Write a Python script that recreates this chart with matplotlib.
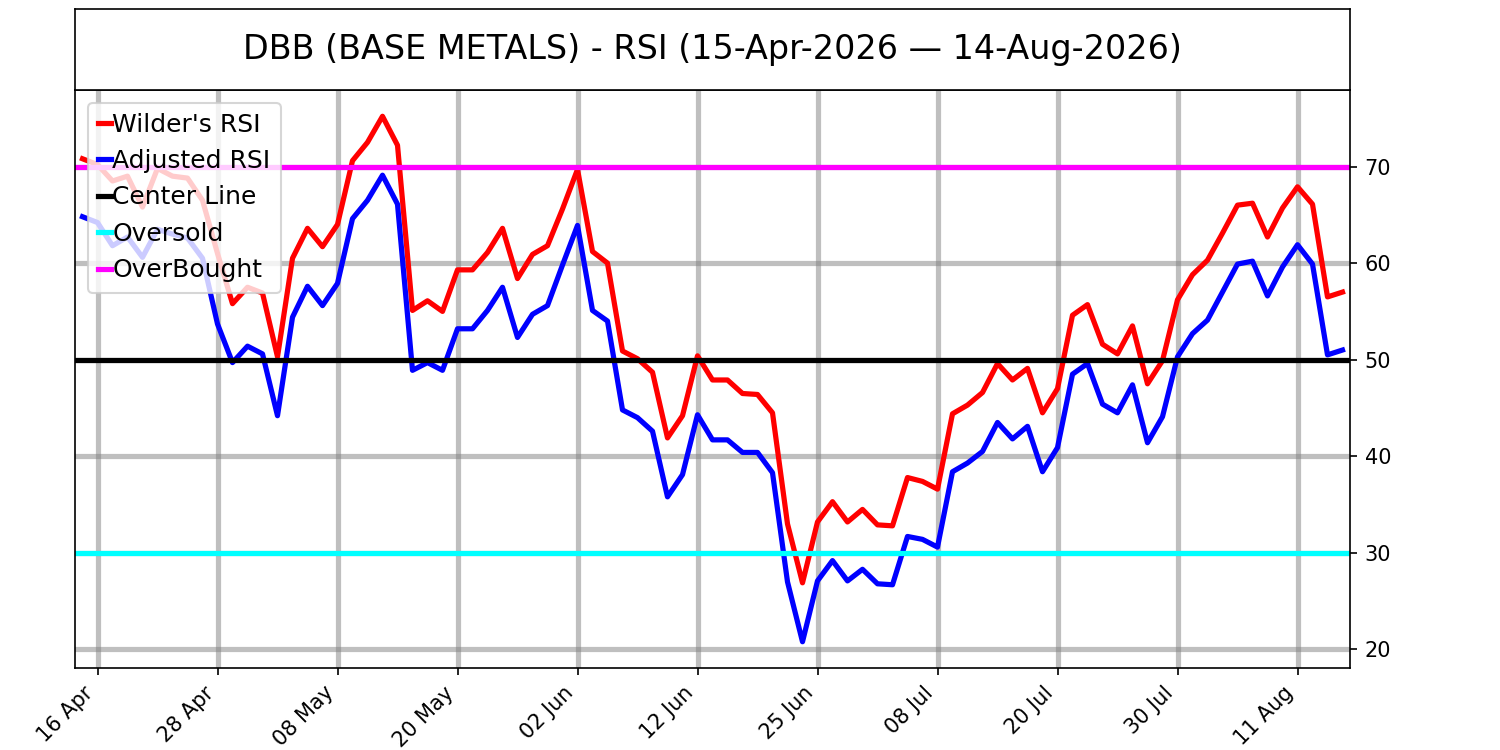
import numpy as np
import pandas as pd
import matplotlib
matplotlib.use("Agg")
import matplotlib.pyplot as plt

# trading days 15 Apr - 14 Aug 2026 (US market holidays removed)
holidays = ["2026-05-25", "2026-06-19", "2026-07-03"]
dates = pd.bdate_range("2026-04-15", "2026-08-14", freq="C", holidays=holidays)

wilder_rsi = [
    70.8, 70.2, 68.5, 69.0, 65.8, 69.8, 69.0, 68.8, 66.5, 61.0,
    55.8, 57.5, 56.9, 50.3, 60.5, 63.6, 61.7, 64.0, 70.6, 72.5,
    75.2, 72.2, 55.1, 56.1, 55.0, 59.3, 59.3, 61.1, 63.6, 58.4,
    60.9, 61.8, 65.6, 69.7, 61.2, 60.0, 50.9, 50.1, 48.7, 41.9,
    44.2, 50.4, 47.9, 47.9, 46.5, 46.4, 44.5, 33.0, 26.9, 33.2,
    35.3, 33.2, 34.5, 32.9, 32.8, 37.8, 37.4, 36.6, 44.4, 45.3,
    46.6, 49.6, 47.9, 49.1, 44.5, 47.0, 54.6, 55.7, 51.6, 50.6,
    53.5, 47.5, 49.9, 56.2, 58.8, 60.3, 63.1, 66.0, 66.2, 62.7,
    65.7, 67.9, 66.1, 56.5, 57.0,
]
adjusted_rsi = [
    64.8, 64.2, 61.8, 62.7, 60.6, 63.5, 63.0, 62.6, 60.5, 53.7,
    49.7, 51.4, 50.6, 44.2, 54.4, 57.6, 55.6, 57.9, 64.6, 66.5,
    69.1, 66.1, 48.9, 49.7, 48.9, 53.2, 53.2, 55.1, 57.5, 52.3,
    54.7, 55.6, 59.8, 63.9, 55.1, 54.0, 44.8, 44.0, 42.6, 35.8,
    38.1, 44.3, 41.7, 41.7, 40.4, 40.4, 38.3, 27.0, 20.8, 27.1,
    29.2, 27.1, 28.3, 26.8, 26.7, 31.7, 31.4, 30.6, 38.4, 39.3,
    40.5, 43.5, 41.8, 43.1, 38.4, 40.9, 48.5, 49.6, 45.4, 44.5,
    47.4, 41.4, 44.1, 50.3, 52.7, 54.1, 57.0, 59.9, 60.2, 56.6,
    59.6, 61.9, 59.9, 50.5, 51.0,
]

center_level = 50
oversold_level = 30
overbought_level = 70

x = np.arange(len(dates))
tick_idx = x[1::8]
tick_labels = [dates[i].strftime("%d %b") for i in tick_idx]

fig = plt.figure(figsize=(10, 5), dpi=150)
ax = fig.add_axes([0.05, 0.1093, 0.85, 0.7707])
ax_t = fig.add_axes([0.05, 0.88, 0.85, 0.108])

# title box
ax_t.set_xticks([])
ax_t.set_yticks([])
for s in ax_t.spines.values():
    s.set_color("black")
ax_t.text(0.5, 0.5, "DBB (BASE METALS) - RSI (15-Apr-2026 \u2014 14-Aug-2026)",
          ha="center", va="center", fontsize=16, transform=ax_t.transAxes)

lw = 2.5
ax.plot(x, wilder_rsi, color="red", lw=lw, label="Wilder's RSI")
ax.plot(x, adjusted_rsi, color="blue", lw=lw, label="Adjusted RSI")
ax.axhline(center_level, color="black", lw=lw, label="Center Line")
ax.axhline(oversold_level, color="cyan", lw=lw, label="Oversold")
ax.axhline(overbought_level, color="magenta", lw=lw, label="OverBought")

ax.set_xlim(-0.5, len(x) - 0.5)
ax.set_xticks(tick_idx)
ax.set_xticklabels(tick_labels, rotation=45, ha="right", fontsize=10)
ax.yaxis.tick_right()
ax.tick_params(axis="y", labelsize=10)
ax.grid(True, color="gray", alpha=0.5, linewidth=2.5)

ax.legend(loc="upper left", fontsize=12, handlelength=0.55,
          handletextpad=0.05, labelspacing=0.5)

fig.savefig("out.png", dpi=150)
